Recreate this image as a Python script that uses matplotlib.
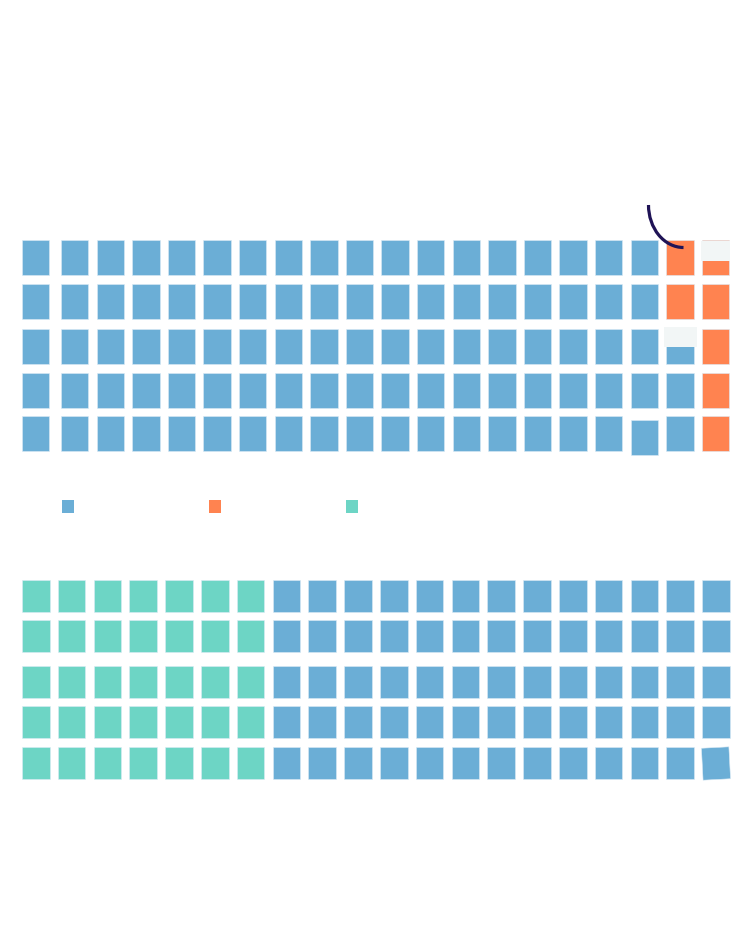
import matplotlib.pyplot as plt
from matplotlib.patches import Rectangle, Arc
import matplotlib.transforms as mtransforms

# Dados: contagens de cada grupo (waffle 5 x 20, preenchido por coluna, de baixo para cima)
top_labels = ['azul', 'laranja']
top_counts = [93, 7]
bottom_labels = ['verde', 'azul']
bottom_counts = [35, 65]
legend_labels = ['azul', 'laranja', 'verde']

cores = {'azul': '#6baed6', 'laranja': '#ff8350', 'verde': '#6dd5c5'}
cinza = '#f2f6f6'

n_rows, n_cols = 5, 20

fig = plt.figure(figsize=(7.5, 9.42), dpi=100)
ax = fig.add_axes([0, 0, 1, 1])
ax.set_xlim(0, 750)
ax.set_ylim(942, 0)
ax.axis('off')


def waffle(labels, counts, col_x, w, row_y, h, ajustes=None):
    ajustes = ajustes or {}
    cells = []
    for lab, cnt in zip(labels, counts):
        cells += [lab] * cnt
    for k, lab in enumerate(cells):
        col = k // n_rows
        row = n_rows - 1 - (k % n_rows)
        x = col_x[col]
        y = row_y[row]
        dy, ang = ajustes.get((row, col), (0, 0))
        rect = Rectangle((x, y + dy), w, h, facecolor=cores[lab],
                         edgecolor='#dcebf5', linewidth=0.4)
        if ang:
            cx, cy = x + w / 2, y + h / 2
            rect.set_transform(mtransforms.Affine2D().rotate_deg_around(cx, cy, ang) + ax.transData)
        ax.add_patch(rect)


# Grade superior
top_x = [22] + [61 + 35.6 * i for i in range(19)]
waffle(top_labels, top_counts, top_x, 27.3, [240, 284, 329, 373, 416], 35,
       ajustes={(4, 17): (4, 0)})

# Grade inferior
bottom_x = [22 + 35.8 * i for i in range(20)]
waffle(bottom_labels, bottom_counts, bottom_x, 27.5, [579.5, 619.5, 665.5, 706, 747], 32,
       ajustes={(4, 19): (0.5, -3)})

# Pequenos detalhes da imagem original
ax.add_patch(Rectangle((701, 241), 29, 19.5, facecolor=cinza, edgecolor='none'))
ax.add_patch(Rectangle((664, 327), 33, 20, facecolor=cinza, edgecolor='none'))

# Arco escuro no canto superior direito
ax.add_patch(Arc((683.5, 205), 70, 85, theta1=90, theta2=180,
                 color='#1f1356', linewidth=2.3))

# Legenda (só os quadradinhos)
leg_x = [62, 209, 346]
for x, lab in zip(leg_x, legend_labels):
    ax.add_patch(Rectangle((x, 500), 12, 12.5, facecolor=cores[lab], edgecolor='none'))

plt.savefig('out.png', dpi=100)
